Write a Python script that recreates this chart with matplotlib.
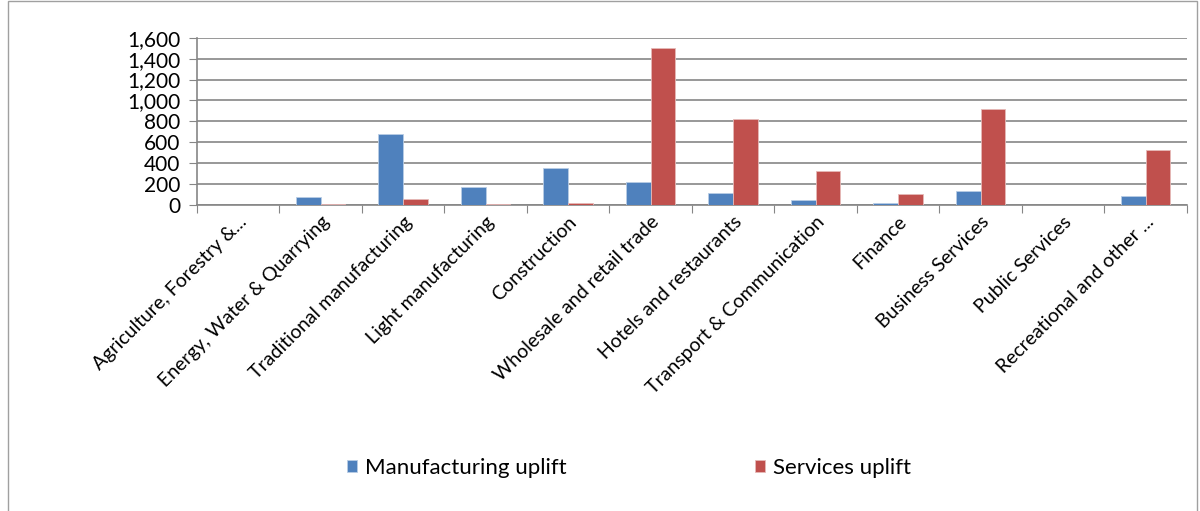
import numpy as np
import matplotlib
matplotlib.use('Agg')
import matplotlib.pyplot as plt
import matplotlib.patches as patches
from matplotlib.ticker import FuncFormatter

plt.rcParams['font.family'] = ['Lato', 'DejaVu Sans']

sectors = ['Agriculture, Forestry &...', 'Energy, Water & Quarrying', 'Traditional manufacturing',
           'Light manufacturing', 'Construction', 'Wholesale and retail trade',
           'Hotels and restaurants', 'Transport & Communication', 'Finance',
           'Business Services', 'Public Services', 'Recreational and other ...']
manufacturing = [0, 72, 680, 173, 358, 218, 118, 50, 14, 133, 0, 86]
services = [0, 6, 55, 5, 19, 1503, 826, 320, 102, 914, 0, 523]

fig = plt.figure(figsize=(12, 5.11), dpi=100)
ax = fig.add_axes([0.164, 0.599, 0.825, 0.327])

x = np.arange(len(sectors))
w = 0.3
ax.bar(x - w/2, manufacturing, w, color='#4F81BD', edgecolor='#B9CDE5', linewidth=0.6, zorder=3,
       label='Manufacturing uplift')
ax.bar(x + w/2, services, w, color='#C0504D', edgecolor='#E6B9B8', linewidth=0.6, zorder=3,
       label='Services uplift')

ax.set_xlim(-0.5, len(sectors) - 0.5)
ax.set_ylim(0, 1600)
ax.set_yticks(np.arange(0, 1601, 200))
ax.yaxis.set_major_formatter(FuncFormatter(lambda v, p: '{:,.0f}'.format(v)))
ax.yaxis.grid(True, color='#868686', linewidth=1.2, zorder=0)
ax.tick_params(axis='y', labelsize=15, length=6, color='#868686', pad=6)

ax.set_xticks(np.arange(-0.5, len(sectors), 1.0), minor=False)
ax.set_xticklabels([])
ax.set_xticks(x, minor=True)
ax.set_xticklabels(sectors, minor=True, rotation=45, ha='right', rotation_mode='anchor', fontsize=14)
ax.tick_params(axis='x', which='major', length=6, color='#868686')
ax.tick_params(axis='x', which='minor', length=0, pad=6)

for s in ['top', 'right']:
    ax.spines[s].set_visible(False)
for s in ['left', 'bottom']:
    ax.spines[s].set_color('#868686')
    ax.spines[s].set_linewidth(1.2)

fig.legend(loc='center', bbox_to_anchor=(0.524, 0.084), ncol=2, frameon=False,
           fontsize=16, handlelength=0.45, handleheight=0.45, handletextpad=0.35, columnspacing=8.5)

fig.patches.append(patches.Rectangle((8/1200, -0.01), 1189/1200, 1.008, transform=fig.transFigure,
                                     fill=False, edgecolor='#A0A0A0', linewidth=1))

fig.savefig('out.png', dpi=100)
